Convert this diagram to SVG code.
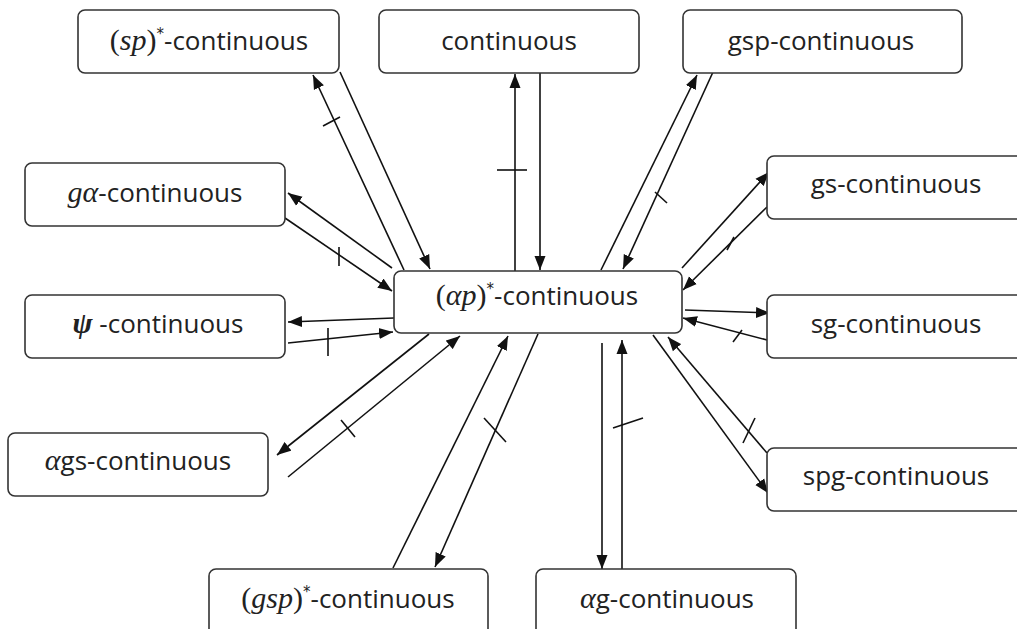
<svg xmlns="http://www.w3.org/2000/svg" width="1017" height="629" viewBox="0 0 1017 629">
<defs>
<style>
.box{fill:#fff;stroke:#333;stroke-width:1.6}
.lbl{font-family:"Open Sans","Noto Sans",sans-serif;font-size:26px;fill:#222;text-anchor:middle}
.m{font-family:"Liberation Serif","DejaVu Serif",serif;font-style:italic;font-size:30px}
.mu{font-family:"Liberation Serif","DejaVu Serif",serif;font-size:30px}
.sup{font-family:"DejaVu Sans",sans-serif;font-size:15px}
.ln{stroke:#111;stroke-width:1.6;fill:none}
.arr{marker-end:url(#ah)}
</style>
<marker id="ah" markerUnits="userSpaceOnUse" markerWidth="15" markerHeight="12" refX="14" refY="6" orient="auto">
<path d="M0,0.5 L14,6 L0,11.5 Z" fill="#111"/>
</marker>
</defs>
<rect width="1017" height="629" fill="#fff"/>
<g id="connectors">
<line class="ln arr" x1="515" y1="271" x2="515" y2="74"/>
<line class="ln" x1="497" y1="170" x2="527" y2="170"/>
<line class="ln arr" x1="540" y1="73" x2="540" y2="270"/>
<line class="ln arr" x1="404" y1="270" x2="313" y2="75"/>
<line class="ln" x1="323" y1="126" x2="340" y2="117"/>
<line class="ln arr" x1="340" y1="72" x2="430" y2="269"/>
<line class="ln arr" x1="601" y1="270" x2="697" y2="75"/>
<line class="ln arr" x1="713" y1="72" x2="623" y2="269"/>
<line class="ln" x1="655" y1="192" x2="667" y2="203"/>
<line class="ln arr" x1="392" y1="268" x2="288" y2="193"/>
<line class="ln arr" x1="285" y1="218" x2="392" y2="291"/>
<line class="ln" x1="339" y1="247" x2="339" y2="266"/>
<line class="ln arr" x1="394" y1="318" x2="288" y2="322"/>
<line class="ln arr" x1="288" y1="343" x2="393" y2="332"/>
<line class="ln" x1="328" y1="328" x2="328" y2="356"/>
<line class="ln arr" x1="429" y1="334" x2="277" y2="455"/>
<line class="ln arr" x1="288" y1="477" x2="460" y2="336"/>
<line class="ln" x1="341" y1="420" x2="355" y2="437"/>
<line class="ln arr" x1="393" y1="568" x2="508" y2="336"/>
<line class="ln arr" x1="538" y1="334" x2="435" y2="567"/>
<line class="ln" x1="484" y1="418" x2="506" y2="442"/>
<line class="ln arr" x1="602" y1="343" x2="602" y2="569"/>
<line class="ln arr" x1="622" y1="575" x2="622" y2="340"/>
<line class="ln" x1="613" y1="428" x2="643" y2="418"/>
<line class="ln arr" x1="653" y1="335" x2="768" y2="493"/>
<line class="ln arr" x1="767" y1="453" x2="668" y2="337"/>
<line class="ln" x1="743" y1="443" x2="755" y2="418"/>
<line class="ln arr" x1="685" y1="310" x2="770" y2="313"/>
<line class="ln arr" x1="767" y1="340" x2="683" y2="318"/>
<line class="ln" x1="733" y1="342" x2="742" y2="330"/>
<line class="ln arr" x1="682" y1="268" x2="769" y2="172"/>
<line class="ln arr" x1="767" y1="207" x2="683" y2="290"/>
<line class="ln" x1="727" y1="250" x2="734" y2="237"/>
</g>
<g id="n-sp">
<rect class="box" x="78" y="10" width="261" height="63" rx="7"/>
<text class="lbl" x="209" y="50"><tspan class="mu">(</tspan><tspan class="m">sp</tspan><tspan class="mu">)</tspan><tspan class="sup" dy="-11">*</tspan><tspan dy="11">-continuous</tspan></text>
</g>
<g id="n-cont">
<rect class="box" x="379" y="10" width="260" height="63" rx="7"/>
<text class="lbl" x="509" y="50">continuous</text>
</g>
<g id="n-gsp">
<rect class="box" x="683" y="10" width="279" height="63" rx="7"/>
<text class="lbl" x="821" y="50">gsp-continuous</text>
</g>
<g id="n-galpha">
<rect class="box" x="25" y="163" width="260" height="63" rx="7"/>
<text class="lbl" x="155" y="202"><tspan class="m">gα</tspan>-continuous</text>
</g>
<g id="n-psi">
<rect class="box" x="25" y="295" width="260" height="63" rx="7"/>
<text class="lbl" x="158" y="333"><tspan class="m" font-weight="bold">ψ</tspan> -continuous</text>
</g>
<g id="n-alphags">
<rect class="box" x="8" y="433" width="260" height="63" rx="7"/>
<text class="lbl" x="138" y="470"><tspan class="m">α</tspan>gs-continuous</text>
</g>
<g id="n-center">
<rect class="box" x="394" y="271" width="288" height="62" rx="7"/>
<text class="lbl" x="537" y="305"><tspan class="mu">(</tspan><tspan class="m">αp</tspan><tspan class="mu">)</tspan><tspan class="sup" dy="-11">*</tspan><tspan dy="11">-continuous</tspan></text>
</g>
<g id="n-gs">
<rect class="box" x="767" y="156" width="258" height="63" rx="7"/>
<text class="lbl" x="896" y="193">gs-continuous</text>
</g>
<g id="n-sg">
<rect class="box" x="767" y="295" width="258" height="63" rx="7"/>
<text class="lbl" x="896" y="333">sg-continuous</text>
</g>
<g id="n-spg">
<rect class="box" x="767" y="448" width="258" height="63" rx="7"/>
<text class="lbl" x="896" y="485">spg-continuous</text>
</g>
<g id="n-gspstar">
<rect class="box" x="209" y="569" width="279" height="70" rx="7"/>
<text class="lbl" x="348" y="608"><tspan class="mu">(</tspan><tspan class="m">gsp</tspan><tspan class="mu">)</tspan><tspan class="sup" dy="-11">*</tspan><tspan dy="11">-continuous</tspan></text>
</g>
<g id="n-alphag">
<rect class="box" x="536" y="569" width="260" height="70" rx="7"/>
<text class="lbl" x="667" y="608"><tspan class="m">α</tspan>g-continuous</text>
</g>
</svg>
